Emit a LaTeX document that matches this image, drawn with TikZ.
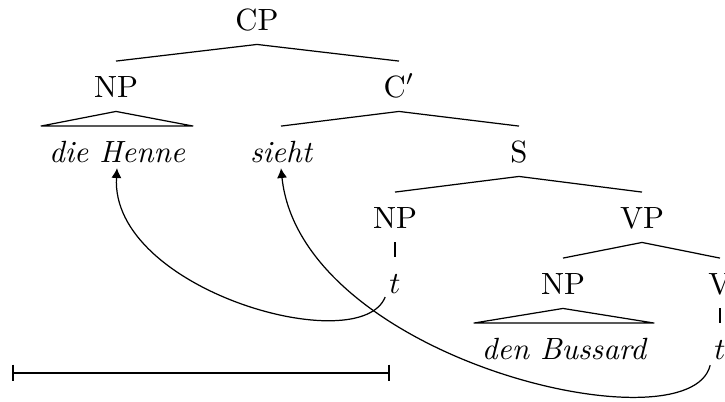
\documentclass[tikz,border=0pt]{standalone}
\usetikzlibrary{arrows.meta}
\begin{document}
\begin{tikzpicture}[x=0.3257pt,y=-0.3257pt,
  lab/.style={anchor=base, inner xsep=1pt, inner ysep=4.5pt, text height=7pt, text depth=0pt},
  phr/.style={lab, font=\itshape, inner xsep=2.5pt},
  br/.style={line width=0.4pt},
  mv/.style={line width=0.4pt, -{Latex[length=3.2pt,width=3.3pt]}},
  scalebar/.style={line width=0.65pt},
  tick/.style={line width=0.9pt}]
\useasboundingbox (0,0) rectangle (725,401);
\clip (0,0) rectangle (725,401);
% nodes
\node[lab] (cp) at (257,30) {CP};
\node[lab] (np1) at (116,97) {NP};
\node[lab] (cbar) at (399,97) {C$'$};
\node[phr] (dh) at (117,162) {die Henne};
\node[phr] (sieht) at (281,162) {sieht};
\node[lab] (s) at (519,162) {S};
\node[lab] (np2) at (395,228) {NP};
\node[lab] (vp) at (642,228) {VP};
\node[lab] (t1) at (395,293) {$t$};
\node[lab] (np3) at (563,294) {NP};
\node[lab] (v) at (720,294) {V};
\node[phr] (db) at (564,359) {den Bussard};
\node[lab] (t2) at (720,359) {$t$};
% branches
\draw[br] (np1.north) -- (cp.south) -- (cbar.north);
\draw[br] (sieht.north) -- (cbar.south) -- (s.north);
\draw[br] (np2.north) -- (s.south) -- (vp.north);
\draw[br] (np3.north) -- (vp.south) -- (v.north);
\draw[br] (np2.south) -- (t1.north);
\draw[br] (v.south) -- (t2.north);
\draw[br] (dh.north west) -- (np1.south) -- (dh.north east) -- cycle;
\draw[br] (db.north west) -- (np3.south) -- (db.north east) -- cycle;
% movement arrows
\draw[mv] ([xshift=-3.2pt,yshift=-1.3pt]t1.base) .. controls +(-25,63) and +(-7,122) .. ([yshift=-2pt]dh.base);
\draw[mv] ([xshift=-3.2pt,yshift=-2pt]t2.base) .. controls +(-20,85) and +(20,192) .. ([yshift=-2pt]sieht.base);
% scale bar
\coordinate (barL) at (13,373);
\coordinate (barR) at (389,373);
\draw[scalebar] (barL) -- (barR);
\draw[tick] ([yshift=2.7pt]barL) -- ([yshift=-2.7pt]barL);
\draw[tick] ([yshift=2.7pt]barR) -- ([yshift=-2.7pt]barR);
\end{tikzpicture}
\end{document}
